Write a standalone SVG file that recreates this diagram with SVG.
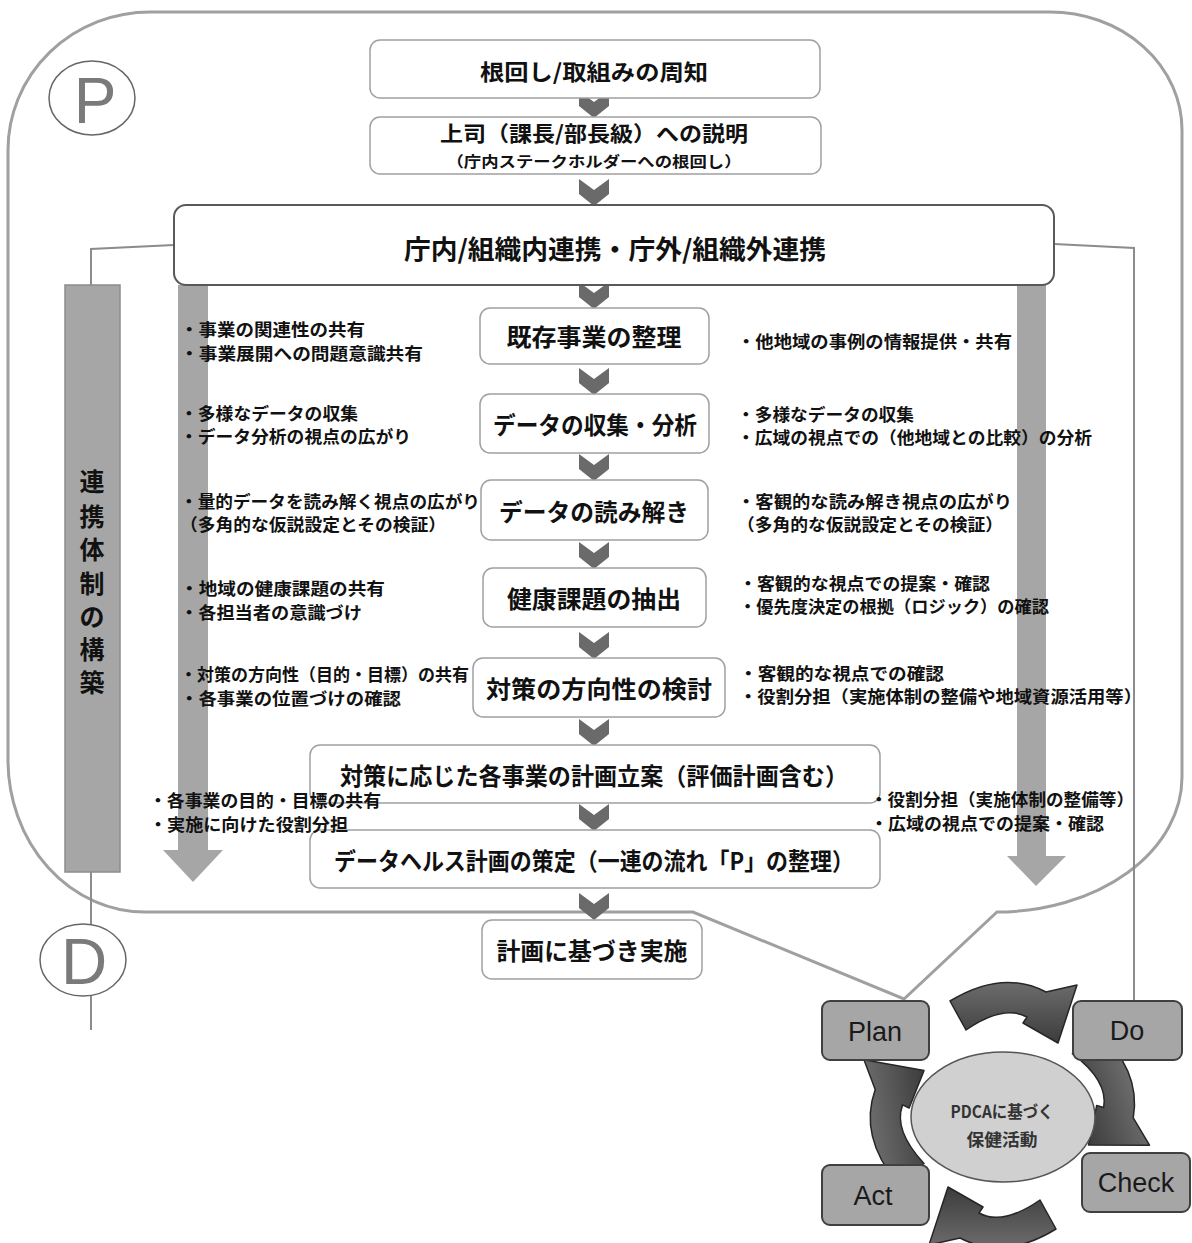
<svg xmlns="http://www.w3.org/2000/svg" width="1192" height="1243" viewBox="0 0 1192 1243">
<style>
.jp{font-family:"Noto Sans CJK JP","Noto Sans",sans-serif;font-weight:700;fill:#111}
.box{fill:#fff;stroke:#a0a0a0;stroke-width:1.5}
.side{font-size:17px;dominant-baseline:central}
.main{font-size:24px;dominant-baseline:central;text-anchor:middle}
.chev{fill:#6a6a6a}
.shaft{fill:#a6a6a6}
.conn{fill:none;stroke:#8c8c8c;stroke-width:2}
.pbox{fill:#a6a6a6;stroke:#404040;stroke-width:2}
.en{font-family:"Liberation Sans",Arial,sans-serif;font-size:27px;fill:#1a1a1a;text-anchor:middle;dominant-baseline:central}
.letter{font-family:"Liberation Sans",Arial,sans-serif;font-size:64px;fill:#7a7a7a;text-anchor:middle}
</style>
<defs>
<linearGradient id="ag" x1="0" y1="0" x2="0" y2="1">
<stop offset="0" stop-color="#6c6c6c"/>
<stop offset="1" stop-color="#3c3c3c"/>
</linearGradient>
<path id="carrow" d="M -53,-114 Q -1,-146 43,-123 L 74,-130 L 55,-72 L 20,-92 L 24,-98 Q 0.5,-111 -37,-85 Z" fill="url(#ag)" stroke="#262626" stroke-width="1.5" stroke-linejoin="round"/>
<polygon id="chev" points="579,-27 594,-16 609,-27 609,-12 594,0 579,-12" class="chev"/>
</defs>

<!-- outer P frame -->
<path id="frame" d="M 8,150 A 142 138 0 0 1 150,12 L 1050,12 A 132 118 0 0 1 1182,130 L 1182,777 A 185 135 0 0 1 997,912 L 904,999 L 693,912 L 145,912 A 137 152 0 0 1 8,760 Z" fill="none" stroke="#a0a0a0" stroke-width="3"/>

<!-- connectors -->
<g id="connectors">
<polyline class="conn" points="174,245 91,249 91,285"/>
<line class="conn" x1="91" y1="872" x2="91" y2="924"/>
<line class="conn" x1="91" y1="995" x2="91" y2="1030"/>
<polyline class="conn" points="1054,244 1134,248 1134,1001"/>
<polygon class="shaft" points="178,285 208,285 208,850 223,850 193,882 163,850 178,850"/>
<polygon class="shaft" points="1017,285 1046,285 1046,856 1066,856 1036,886 1007,856 1017,856"/>
<use href="#chev" transform="translate(0,118)"/>
<use href="#chev" transform="translate(0,206)"/>
<use href="#chev" transform="translate(0,309)"/>
<use href="#chev" transform="translate(0,395)"/>
<use href="#chev" transform="translate(0,481)"/>
<use href="#chev" transform="translate(0,569)"/>
<use href="#chev" transform="translate(0,659)"/>
<use href="#chev" transform="translate(0,746)"/>
<use href="#chev" transform="translate(0,831)"/>
<use href="#chev" transform="translate(0,920)"/>
<g id="pdca-arrows" transform="translate(1003,1115)">
<use href="#carrow"/>
<use href="#carrow" transform="rotate(72)"/>
<use href="#carrow" transform="rotate(180)"/>
<use href="#carrow" transform="rotate(262)"/>
</g>
</g>

<!-- P / D markers -->
<g id="markP">
<ellipse cx="92" cy="98" rx="43" ry="37" fill="#fff" stroke="#666" stroke-width="1.5"/>
<text class="letter" x="95" y="123">P</text>
</g>
<g id="markD">
<ellipse cx="83" cy="960" rx="43" ry="36" fill="#fff" stroke="#666" stroke-width="1.5"/>
<text class="letter" x="84" y="984">D</text>
</g>

<!-- collaboration bar -->
<g id="bar">
<rect x="65" y="285" width="55" height="587" fill="#a6a6a6" stroke="#8c8c8c" stroke-width="1.5"/>
<text class="jp" font-size="25" text-anchor="middle" dominant-baseline="central" x="92" y="480">連<tspan x="92" y="515">携</tspan><tspan x="92" y="548">体</tspan><tspan x="92" y="582">制</tspan><tspan x="92" y="615">の</tspan><tspan x="92" y="648">構</tspan><tspan x="92" y="681">築</tspan></text>
</g>

<!-- main flow nodes -->
<g id="n1"><rect class="box" x="370" y="40" width="450" height="58" rx="10"/>
<text class="jp main" x="594" y="70" style="font-size:22px" textLength="228" lengthAdjust="spacingAndGlyphs">根回し/取組みの周知</text></g>
<g id="n2"><rect class="box" x="370" y="117" width="451" height="57" rx="10"/>
<text class="jp main" x="594" y="132" style="font-size:21px" textLength="308" lengthAdjust="spacingAndGlyphs">上司（課長/部長級）への説明</text>
<text class="jp main" x="594" y="160" style="font-size:15px" textLength="295" lengthAdjust="spacingAndGlyphs">（庁内ステークホルダーへの根回し）</text></g>
<g id="n3"><rect x="174" y="205" width="880" height="80" rx="12" fill="#fff" stroke="#595959" stroke-width="2"/>
<text class="jp main" x="615" y="247" style="font-size:26px" textLength="422" lengthAdjust="spacingAndGlyphs">庁内/組織内連携・庁外/組織外連携</text></g>
<g id="n4"><rect class="box" x="480" y="308" width="229" height="56" rx="10"/>
<text class="jp main" x="594" y="335" textLength="175" lengthAdjust="spacingAndGlyphs">既存事業の整理</text></g>
<g id="n5"><rect class="box" x="480" y="394" width="229" height="59" rx="10"/>
<text class="jp main" x="595" y="423" textLength="204" lengthAdjust="spacingAndGlyphs">データの収集・分析</text></g>
<g id="n6"><rect class="box" x="481" y="480" width="227" height="60" rx="10"/>
<text class="jp main" x="594" y="510" textLength="190" lengthAdjust="spacingAndGlyphs">データの読み解き</text></g>
<g id="n7"><rect class="box" x="483" y="568" width="223" height="59" rx="10"/>
<text class="jp main" x="594" y="597" textLength="174" lengthAdjust="spacingAndGlyphs">健康課題の抽出</text></g>
<g id="n8"><rect class="box" x="473" y="658" width="252" height="59" rx="10"/>
<text class="jp main" x="599" y="687" textLength="226" lengthAdjust="spacingAndGlyphs">対策の方向性の検討</text></g>
<g id="n9"><rect class="box" x="310" y="745" width="570" height="58" rx="10"/>
<text class="jp main" x="594" y="774" textLength="508" lengthAdjust="spacingAndGlyphs">対策に応じた各事業の計画立案（評価計画含む）</text></g>
<g id="n10"><rect class="box" x="310" y="830" width="570" height="58" rx="10"/>
<text class="jp main" x="594" y="859" textLength="520" lengthAdjust="spacingAndGlyphs">データヘルス計画の策定（一連の流れ「P」の整理）</text></g>
<g id="n11"><rect class="box" x="482" y="920" width="220" height="59" rx="10"/>
<text class="jp main" x="592" y="949" textLength="191" lengthAdjust="spacingAndGlyphs">計画に基づき実施</text></g>

<!-- left notes -->
<g id="notes-left">
<text class="jp side" x="180" y="328" textLength="185" lengthAdjust="spacingAndGlyphs">・事業の関連性の共有</text>
<text class="jp side" x="180" y="352" textLength="243" lengthAdjust="spacingAndGlyphs">・事業展開への問題意識共有</text>
<text class="jp side" x="180" y="412" textLength="178" lengthAdjust="spacingAndGlyphs">・多様なデータの収集</text>
<text class="jp side" x="180" y="435" textLength="231" lengthAdjust="spacingAndGlyphs">・データ分析の視点の広がり</text>
<text class="jp side" x="180" y="500" textLength="300" lengthAdjust="spacingAndGlyphs">・量的データを読み解く視点の広がり</text>
<text class="jp side" x="180" y="523" textLength="266" lengthAdjust="spacingAndGlyphs">（多角的な仮説設定とその検証）</text>
<text class="jp side" x="180" y="587" textLength="205" lengthAdjust="spacingAndGlyphs">・地域の健康課題の共有</text>
<text class="jp side" x="180" y="611" textLength="182" lengthAdjust="spacingAndGlyphs">・各担当者の意識づけ</text>
<text class="jp side" x="180" y="673" textLength="289" lengthAdjust="spacingAndGlyphs">・対策の方向性（目的・目標）の共有</text>
<text class="jp side" x="180" y="697" textLength="221" lengthAdjust="spacingAndGlyphs">・各事業の位置づけの確認</text>
<text class="jp side" x="149" y="799" textLength="232" lengthAdjust="spacingAndGlyphs">・各事業の目的・目標の共有</text>
<text class="jp side" x="149" y="823" textLength="199" lengthAdjust="spacingAndGlyphs">・実施に向けた役割分担</text>
</g>

<!-- right notes -->
<g id="notes-right">
<text class="jp side" x="737" y="340" textLength="275" lengthAdjust="spacingAndGlyphs">・他地域の事例の情報提供・共有</text>
<text class="jp side" x="737" y="413" textLength="177" lengthAdjust="spacingAndGlyphs">・多様なデータの収集</text>
<text class="jp side" x="737" y="436" textLength="355" lengthAdjust="spacingAndGlyphs">・広域の視点での（他地域との比較）の分析</text>
<text class="jp side" x="737" y="500" textLength="275" lengthAdjust="spacingAndGlyphs">・客観的な読み解き視点の広がり</text>
<text class="jp side" x="737" y="523" textLength="266" lengthAdjust="spacingAndGlyphs">（多角的な仮説設定とその検証）</text>
<text class="jp side" x="739" y="582" textLength="251" lengthAdjust="spacingAndGlyphs">・客観的な視点での提案・確認</text>
<text class="jp side" x="739" y="605" textLength="310" lengthAdjust="spacingAndGlyphs">・優先度決定の根拠（ロジック）の確認</text>
<text class="jp side" x="739" y="672" textLength="205" lengthAdjust="spacingAndGlyphs">・客観的な視点での確認</text>
<text class="jp side" x="739" y="695" textLength="403" lengthAdjust="spacingAndGlyphs">・役割分担（実施体制の整備や地域資源活用等）</text>
<text class="jp side" x="870" y="798" textLength="264" lengthAdjust="spacingAndGlyphs">・役割分担（実施体制の整備等）</text>
<text class="jp side" x="870" y="822" textLength="234" lengthAdjust="spacingAndGlyphs">・広域の視点での提案・確認</text>
</g>

<!-- PDCA cycle -->
<g id="pdca-center">
<ellipse cx="1003" cy="1117" rx="92" ry="65" fill="#d0d0d0" stroke="#555" stroke-width="1.5"/>
<text class="jp" x="1002" y="1110" font-size="17" text-anchor="middle" dominant-baseline="central" textLength="103" lengthAdjust="spacingAndGlyphs" style="fill:#333">PDCAに基づく</text>
<text class="jp" x="1002" y="1138" font-size="17" text-anchor="middle" dominant-baseline="central" textLength="71" lengthAdjust="spacingAndGlyphs" style="fill:#333">保健活動</text>
</g>
<g id="plan"><rect class="pbox" x="822" y="1001" width="107" height="59" rx="8"/><text class="en" x="875" y="1032">Plan</text></g>
<g id="do"><rect class="pbox" x="1073" y="1001" width="109" height="59" rx="8"/><text class="en" x="1127" y="1031">Do</text></g>
<g id="check"><rect class="pbox" x="1082" y="1153" width="108" height="59" rx="8"/><text class="en" x="1136" y="1183">Check</text></g>
<g id="act"><rect class="pbox" x="822" y="1165" width="107" height="60" rx="8"/><text class="en" x="873" y="1196">Act</text></g>
</svg>
